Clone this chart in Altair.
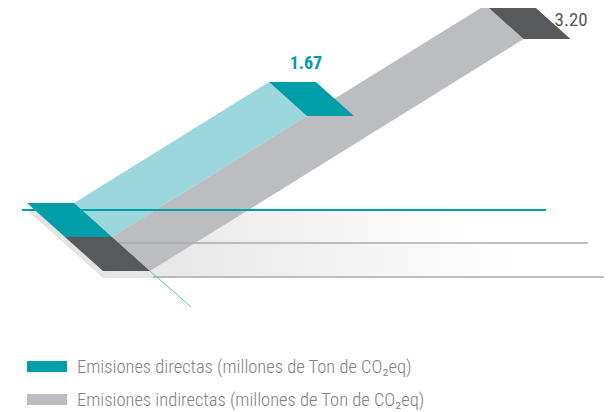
import altair as alt
import pandas as pd

# ---------------- data ----------------
series = ["Emisiones directas", "Emisiones indirectas"]
legend_labels = ["Emisiones directas (millones de Ton de CO\u2082eq)",
                 "Emisiones indirectas (millones de Ton de CO\u2082eq)"]
values = [1.67, 3.20]
value_labels = ["1.67", "3.20"]

# ---------------- style / layout ----------------
dark_colors = ["#009ea8", "#58595b"]
light_colors = ["#9cd7dd", "#bcbdc0"]
label_colors = ["#009ea8", "#58595b"]
PX_PER_UNIT = 72.5      # vertical rise per million t
RUN_PER_RISE = 1.61     # diagonal slope of the ribbons
BASE_W, BASE_D, BASE_S = 47, 34, 38   # base block width, depth, skew
ORIGIN = (27, 203)      # top-left corner of the first base block
FLOOR_GAP = 7

def para(x, y, pid, color):
    """horizontal parallelogram with top-left corner (x, y)"""
    return [dict(id=pid, y=y, x=x, x2=x + BASE_W, fill=color),
            dict(id=pid, y=y + BASE_D, x=x + BASE_S, x2=x + BASE_W + BASE_S, fill=color)]

blocks, bands, labels = [], [], []
for i, (name, v) in enumerate(zip(series, values)):
    bx = ORIGIN[0] + i * BASE_S
    by = ORIGIN[1] + i * BASE_D
    rise = v * PX_PER_UNIT
    run = rise * RUN_PER_RISE
    tx, ty = bx + BASE_W + run, by - rise
    blocks += para(bx, by, f"base{i}", dark_colors[i])
    blocks += para(tx, ty, f"top{i}", dark_colors[i])
    # ribbon between base right edge and top left edge
    x1, y1 = bx + BASE_W, by
    x2, y2 = bx + BASE_W + BASE_S, by + BASE_D
    x3, y3 = tx, ty
    x4, y4 = tx + BASE_S, ty + BASE_D
    l4 = x3 + (x1 - x3) * (y4 - y3) / (y1 - y3)
    r1 = x4 + (x2 - x4) * (y1 - y4) / (y2 - y4)
    bands += [dict(id=f"band{i}", y=y3, x=x3, x2=x3, fill=light_colors[i]),
              dict(id=f"band{i}", y=y4, x=l4, x2=x4, fill=light_colors[i]),
              dict(id=f"band{i}", y=y1, x=x1, x2=r1, fill=light_colors[i]),
              dict(id=f"band{i}", y=y2, x=x2, x2=x2, fill=light_colors[i])]
    if i == 0:
        labels.append(dict(x=tx + 37, y=ty - 13, t=value_labels[i], c=label_colors[i]))
    else:
        labels.append(dict(x=tx + BASE_W + 22, y=ty + 21, t=value_labels[i], c=label_colors[i]))

bx0, by0 = ORIGIN
floor = [dict(x=bx0 - 5, x2=546, y=by0 + FLOOR_GAP, c="#00a0aa", w=2.0),
         dict(x=bx0 + BASE_S + 50, x2=588, y=by0 + BASE_D + FLOOR_GAP - 1, c="#aaaaaa", w=1.3),
         dict(x=bx0 + 2 * BASE_S + 50, x2=612, y=by0 + 2 * BASE_D + FLOOR_GAP - 1, c="#aaaaaa", w=1.3)]

shadow1 = pd.DataFrame([dict(y=by0 + FLOOR_GAP, x=bx0, x2=470),
                        dict(y=by0 + BASE_D + FLOOR_GAP, x=bx0 + BASE_S, x2=470)])
shadow2 = pd.DataFrame([dict(y=by0 + BASE_D + FLOOR_GAP, x=bx0 + BASE_S, x2=520),
                        dict(y=by0 + 2 * BASE_D + FLOOR_GAP, x=bx0 + 2 * BASE_S, x2=520)])

# teal guide line continuing the base edge
gx, gy = bx0 + BASE_W + 2 * BASE_S, by0 + 2 * BASE_D
guide = pd.DataFrame([dict(x=gx, y=gy, x2=gx + 41, y2=gy + 36)])

legend = pd.DataFrame([dict(x=27, x2=67, y=361, y2=372, t=legend_labels[0], c=dark_colors[0]),
                       dict(x=27, x2=67, y=394, y2=405, t=legend_labels[1], c=light_colors[1])])

# ---------------- chart ----------------
XS = alt.Scale(domain=[8, 604], nice=False, zero=False)
YS = alt.Scale(domain=[8, 412], nice=False, zero=False, reverse=True)
X = alt.X("x:Q", scale=XS, axis=None)
Y = alt.Y("y:Q", scale=YS, axis=None)

def grad(c0, c1):
    return alt.Gradient(gradient="linear", x1=0, x2=1, y1=0, y2=0,
                        stops=[alt.GradientStop(color=c0, offset=0),
                               alt.GradientStop(color=c1, offset=0.55),
                               alt.GradientStop(color="#ffffff", offset=1)])

sh1 = alt.Chart(shadow1).mark_area(orient="horizontal", color=grad("#e2e2e2", "#f0f0f0")).encode(y=Y, x=X, x2="x2:Q")
sh2 = alt.Chart(shadow2).mark_area(orient="horizontal", color=grad("#e2e2e2", "#f1f1f1")).encode(y=Y, x=X, x2="x2:Q")

band_layer = alt.Chart(pd.DataFrame(bands)).mark_area(orient="horizontal").encode(
    y=Y, x=X, x2="x2:Q", detail="id:N", color=alt.Color("fill:N", scale=None))

floor_layer = alt.Chart(pd.DataFrame(floor)).mark_rule().encode(
    x=X, x2="x2:Q", y=Y, color=alt.Color("c:N", scale=None),
    strokeWidth=alt.StrokeWidth("w:Q", scale=None))

block_layer = alt.Chart(pd.DataFrame(blocks)).mark_area(orient="horizontal").encode(
    y=Y, x=X, x2="x2:Q", detail="id:N", color=alt.Color("fill:N", scale=None))

guide_layer = alt.Chart(guide).mark_rule(color="#5ec2ca", strokeWidth=1).encode(
    x=X, y=Y, x2="x2:Q", y2="y2:Q")

lab = pd.DataFrame(labels)
lab0 = alt.Chart(lab.iloc[[0]]).mark_text(font="Roboto Condensed, Roboto", fontSize=18, fontWeight="bold",
                                          align="center", baseline="alphabetic").encode(
    x=X, y=Y, text="t:N", color=alt.Color("c:N", scale=None))
lab1 = alt.Chart(lab.iloc[[1]]).mark_text(font="Roboto Condensed, Roboto", fontSize=19, fontWeight="normal",
                                          align="left", baseline="alphabetic").encode(
    x=X, y=Y, text="t:N", color=alt.Color("c:N", scale=None))

leg_rect = alt.Chart(legend).mark_rect().encode(x=X, x2="x2:Q", y=Y, y2="y2:Q",
                                                color=alt.Color("c:N", scale=None))
leg_text = alt.Chart(legend).mark_text(font="Roboto Condensed, Roboto", fontSize=18.5, fontWeight=300,
                                       color="#808184", align="left", baseline="alphabetic").encode(
    x=alt.X("tx:Q", scale=XS, axis=None),
    y=alt.Y("ty:Q", scale=YS, axis=None),
    text="t:N").transform_calculate(tx="datum.x2 + 10", ty="datum.y2 + 0.5")

chart = alt.layer(sh1, sh2, band_layer, floor_layer, block_layer, guide_layer,
                  lab0, lab1, leg_rect, leg_text).properties(
    width=596, height=404, padding=0, autosize=alt.AutoSizeParams(type="none")
).configure_view(stroke=None)

chart.save("out.html", embed_options={"renderer": "svg", "actions": False})
